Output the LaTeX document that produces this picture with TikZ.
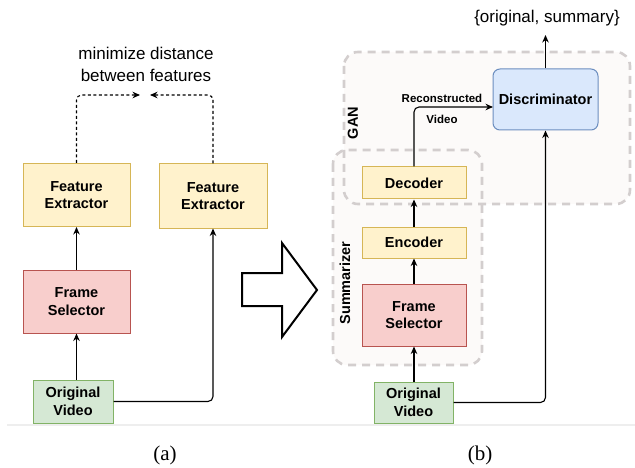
\documentclass[tikz,border=0pt]{standalone}
\usepackage{fontspec}
\setmainfont{Liberation Sans}
\newfontfamily\capfont{Liberation Serif}
\usetikzlibrary{arrows.meta}
\definecolor{ylwF}{HTML}{FFF2CC}\definecolor{ylwD}{HTML}{D6B656}
\definecolor{redF}{HTML}{F8CECC}\definecolor{redD}{HTML}{B85450}
\definecolor{grnF}{HTML}{D5E8D4}\definecolor{grnD}{HTML}{82B366}
\definecolor{bluF}{HTML}{DAE8FC}\definecolor{bluD}{HTML}{6C8EBF}
\definecolor{grpF}{HTML}{FCFAF9}\definecolor{grpD}{HTML}{D3CECE}
\definecolor{sepC}{HTML}{EEEEEE}
\tikzset{
  blk/.style={draw, line width=1pt, inner sep=0pt, align=center, font=\fontsize{14.5}{17.5}\selectfont\bfseries},
  ylw/.style={blk, fill=ylwF, draw=ylwD},
  red/.style={blk, fill=redF, draw=redD},
  grn/.style={blk, fill=grnF, draw=grnD},
  blu/.style={blk, fill=bluF, draw=bluD, rounded corners=7pt},
  conn/.style={line width=1.1pt, -{Stealth[length=7.5pt,width=6.5pt]}, rounded corners=5pt},
  dconn/.style={conn, dash pattern=on 3pt off 2.5pt},
  grp/.style={draw=grpD, fill=grpF, line width=2.6pt, dash pattern=on 8pt off 6pt, rounded corners=14pt},
  plain/.style={font=\fontsize{17}{22}\selectfont, align=center, inner sep=0pt},
  small/.style={font=\fontsize{11.5}{13}\selectfont\bfseries, inner sep=0pt},
  grplbl/.style={font=\fontsize{14.5}{17}\selectfont\bfseries, inner sep=0pt, rotate=90},
}
\begin{document}
\begin{tikzpicture}[x=1pt,y=-1pt]
\useasboundingbox (0,0) rectangle (635,468);
% separator
\draw[sepC, line width=1.5pt] (7,425) -- (635,425);
% groups (b)
\path[grp, draw=none] (344,52) rectangle (630,204);
\path[grp, draw=none] (333,150) rectangle (482,365);
\draw[grp, fill=none] (344,52) rectangle (630,204);
\draw[grp, fill=none] (333,150) rectangle (482,365);
\node[grplbl] (gan) at (353,123) {GAN};
\node[grplbl] (summ) at (345,283) {Summarizer};
% panel (a)
\node[ylw, minimum width=107pt, minimum height=63pt] (fel) at (76.5,195) {Feature\\Extractor};
\node[ylw, minimum width=108pt, minimum height=64pt] (fer) at (213,196) {Feature\\Extractor};
\node[red, minimum width=107pt, minimum height=63pt] (fsa) at (76.5,301.5) {Frame\\Selector};
\node[grn, minimum width=80pt, minimum height=43pt] (ova) at (73,401.5) {Original\\Video};
\node[plain] (mini) at (146,64) {minimize distance\\between features};
\coordinate (ml) at (140,95);
\coordinate (mr) at (150,95);
\draw[conn] (fsa.south |- ova.north) -- (fsa.south);
\draw[conn] (fsa.north) -- (fel.south);
\draw[conn] (ova.east) -| (fer.south);
\draw[dconn] (fel.north) |- (ml);
\draw[dconn] (fer.north) |- (mr);
% big arrow
\draw[line width=2pt, fill=white, line join=miter]
  (242,273) -- (282,273) -- (282,243) -- (317,290) -- (282,337) -- (282,306) -- (242,306) -- cycle;
% panel (b)
\node[blu, minimum width=105pt, minimum height=61pt] (disc) at (545.5,99.5) {Discriminator};
\node[ylw, minimum width=104pt, minimum height=32pt] (dec) at (414,183) {Decoder};
\node[ylw, minimum width=104pt, minimum height=31pt] (enc) at (414,242.5) {Encoder};
\node[red, minimum width=104pt, minimum height=62pt] (fsb) at (414,315) {Frame\\Selector};
\node[grn, minimum width=79pt, minimum height=41pt] (ovb) at (413.5,402.5) {Original\\Video};
\coordinate (rv) at (493,107);
\coordinate (outc) at (545.5,35);
\node[small] (rec1) at (442,98) {Reconstructed};
\node[small] (rec2) at (442,119) {Video};
\node[plain] (outl) at (547,18) {\{original, summary\}};
\draw[conn] (fsb.south |- ovb.north) -- (fsb.south);
\draw[conn] (fsb.north) -- (enc.south);
\draw[conn] (enc.north) -- (dec.south);
\draw[conn] (dec.north) |- (rv);
\draw[conn] (ovb.east) -| (disc.south);
\draw[conn] (disc.north) -- (outc);
% captions
\node[font=\capfont\fontsize{21}{24}\selectfont, inner sep=0pt] (capa) at (165,455) {(a)};
\node[font=\capfont\fontsize{21}{24}\selectfont, inner sep=0pt] (capb) at (480,455) {(b)};
\end{tikzpicture}
\end{document}
